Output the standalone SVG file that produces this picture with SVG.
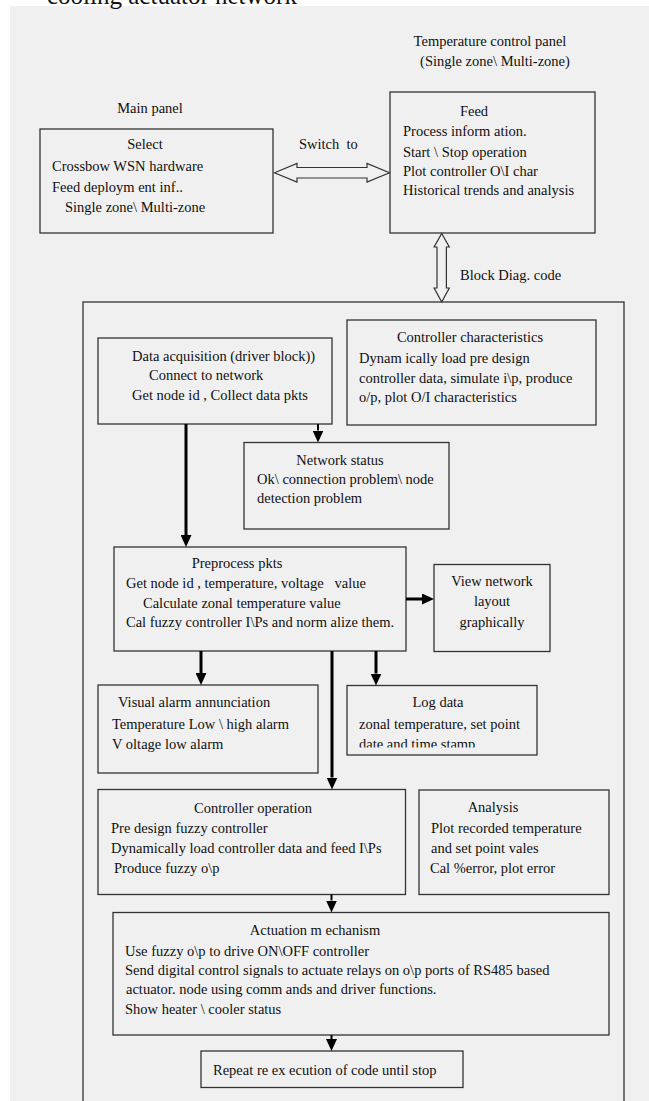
<svg xmlns="http://www.w3.org/2000/svg" width="649" height="1101" viewBox="0 0 649 1101" xml:space="preserve" font-family="'Liberation Serif', 'Times New Roman', serif">
<style>
text{font-family:'Liberation Serif','Times New Roman',serif;font-size:14.5px;fill:#111;white-space:pre}
.c{text-anchor:middle}
.box{fill:none;stroke:#333;stroke-width:1.3}
.hollow{fill:#f0f0f0;stroke:#333;stroke-width:1.2}
.thick{stroke:#000;stroke-width:3;fill:none}
.thin{stroke:#000;stroke-width:2;fill:none}
</style>
<defs>
<marker id="ah" markerUnits="userSpaceOnUse" markerWidth="12" markerHeight="11" refX="0" refY="5.5" orient="auto" viewBox="0 0 12 11">
<path d="M0,0 L12,5.5 L0,11 z" fill="#000"/>
</marker>
<clipPath id="logclip"><rect x="340" y="680" width="200" height="67.5"/></clipPath>
</defs>
<rect x="0" y="0" width="649" height="1101" fill="#fff"/>
<rect x="10" y="6" width="639" height="1095" fill="#f0f0f0"/>
<text x="47" y="4" style="font-size:25px">cooling actuator network</text>

<g id="labels">
<text class="c" x="490" y="46">Temperature control panel</text>
<text class="c" x="495" y="66">(Single zone\ Multi-zone)</text>
<text class="c" x="150" y="113">Main panel</text>
<text x="299" y="149">Switch  to</text>
<text x="460" y="280">Block Diag. code</text>
</g>

<g id="outer">
<rect class="box" x="83" y="302" width="541" height="820"/>
</g>

<g id="select">
<rect class="box" x="40" y="129" width="233" height="104"/>
<text class="c" x="145" y="149">Select</text>
<text x="52" y="171">Crossbow WSN hardware</text>
<text x="52" y="192">Feed deploym ent inf..</text>
<text x="65" y="212">Single zone\ Multi-zone</text>
</g>

<g id="feed">
<rect class="box" x="390" y="92" width="205" height="141"/>
<text class="c" x="474" y="116">Feed</text>
<text x="403" y="136">Process inform ation.</text>
<text x="403" y="157">Start \ Stop operation</text>
<text x="403" y="176">Plot controller O\I char</text>
<text x="403" y="195">Historical trends and analysis</text>
</g>

<g id="data-acquisition">
<rect class="box" x="98" y="338" width="234" height="86"/>
<text x="132" y="361">Data acquisition (driver block))</text>
<text x="149" y="380">Connect to network</text>
<text x="132" y="400">Get node id , Collect data pkts</text>
</g>

<g id="controller-characteristics">
<rect class="box" x="347" y="320" width="249" height="105"/>
<text class="c" x="470" y="342">Controller characteristics</text>
<text x="359" y="363">Dynam ically load pre design</text>
<text x="359" y="383">controller data, simulate i\p, produce</text>
<text x="359" y="402">o/p, plot O/I characteristics</text>
</g>

<g id="network-status">
<rect class="box" x="244" y="442.5" width="205" height="86.5"/>
<text class="c" x="340" y="465">Network status</text>
<text x="257" y="484">Ok\ connection problem\ node</text>
<text x="257" y="503">detection problem</text>
</g>

<g id="preprocess">
<rect class="box" x="114" y="547" width="292" height="104"/>
<text class="c" x="237" y="568">Preprocess pkts</text>
<text x="126" y="588">Get node id , temperature, voltage   value</text>
<text x="143" y="608">Calculate zonal temperature value</text>
<text x="126" y="627">Cal fuzzy controller I\Ps and norm alize them.</text>
</g>

<g id="view-network">
<rect class="box" x="434" y="564.5" width="116" height="87"/>
<text class="c" x="492" y="586">View network</text>
<text class="c" x="492" y="606">layout</text>
<text class="c" x="492" y="627">graphically</text>
</g>

<g id="visual-alarm">
<rect class="box" x="98" y="685" width="220" height="88"/>
<text x="118" y="707">Visual alarm annunciation</text>
<text x="112" y="729">Temperature Low \ high alarm</text>
<text x="112" y="749">V oltage low alarm</text>
</g>

<g id="log-data">
<rect class="box" x="347" y="685.5" width="190" height="69.5"/>
<text class="c" x="438" y="707">Log data</text>
<text x="359" y="729">zonal temperature, set point</text>
<text x="359" y="749" clip-path="url(#logclip)">date and time stamp</text>
</g>

<g id="controller-operation">
<rect class="box" x="98" y="789.5" width="307.5" height="105"/>
<text class="c" x="253" y="813">Controller operation</text>
<text x="111" y="833">Pre design fuzzy controller</text>
<text x="111" y="853">Dynamically load controller data and feed I\Ps</text>
<text x="114" y="873">Produce fuzzy o\p</text>
</g>

<g id="analysis">
<rect class="box" x="419" y="790" width="190" height="104.5"/>
<text class="c" x="493" y="812">Analysis</text>
<text x="431" y="833">Plot recorded temperature</text>
<text x="431" y="853">and set point vales</text>
<text x="430" y="873">Cal %error, plot error</text>
</g>

<g id="actuation">
<rect class="box" x="113" y="912.5" width="496" height="122.5"/>
<text class="c" x="315" y="935">Actuation m echanism</text>
<text x="125" y="956">Use fuzzy o\p to drive ON\OFF controller</text>
<text x="125" y="975">Send digital control signals to actuate relays on o\p ports of RS485 based</text>
<text x="126" y="994">actuator. node using comm ands and driver functions.</text>
<text x="125" y="1014">Show heater \ cooler status</text>
</g>

<g id="repeat">
<rect class="box" x="201" y="1051" width="262" height="36.5"/>
<text x="213" y="1075">Repeat re ex ecution of code until stop</text>
</g>

<g id="connectors">
<polygon class="hollow" points="274.5,172.7 297,163.5 297,167.5 367,167.5 367,163.5 389.5,172.7 367,182 367,178 297,178 297,182"/>
<polygon class="hollow" points="441.7,233.5 449.3,247 446.4,247 446.4,288 449.3,288 441.7,302 434.1,288 437,288 437,247 434.1,247"/>
<line class="thin" x1="318" y1="424" x2="318" y2="430.5" marker-end="url(#ah)"/>
<line class="thick" x1="186" y1="424" x2="186" y2="535" marker-end="url(#ah)"/>
<line class="thick" x1="406" y1="599" x2="422" y2="599" marker-end="url(#ah)"/>
<line class="thick" x1="201" y1="651" x2="201" y2="673" marker-end="url(#ah)"/>
<line class="thick" x1="376" y1="651" x2="376" y2="673.5" marker-end="url(#ah)"/>
<line class="thick" x1="332" y1="651" x2="332" y2="777.5" marker-end="url(#ah)"/>
<line class="thin" x1="331.5" y1="894.5" x2="331.5" y2="900.5" marker-end="url(#ah)"/>
<line class="thin" x1="331.5" y1="1035" x2="331.5" y2="1039" marker-end="url(#ah)"/>
</g>
</svg>
